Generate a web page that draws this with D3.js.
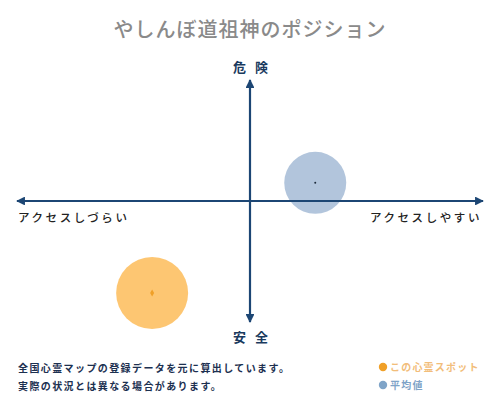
<!DOCTYPE html>
<html><head><meta charset="utf-8">
<script src="https://cdn.jsdelivr.net/npm/d3@7"></script>
<style>
html,body{margin:0;padding:0;background:#fff;}
svg{display:block;font-family:"Noto Sans CJK JP","Noto Sans",sans-serif;}
</style></head><body>
<svg id="c" width="500" height="400"></svg>
<script>
const title = "やしんぼ道祖神のポジション";
const axisLabels = {top:"危 険", bottom:"安 全", left:"アクセスしづらい", right:"アクセスしやすい"};
const seriesNames = ["この心霊スポット", "平均値"];
const xValues = [-42, 28];   // access: negative = hard, positive = easy
const yValues = [-76, 15];   // danger: positive = dangerous
const sizes = [36, 31];
const fillColors = ["#fdc36a", "#9fb7d3"];
const dotColors = ["#f0a028", "#7fa4c8"];
const notes = ["全国心霊マップの登録データを元に算出しています。", "実際の状況とは異なる場合があります。"];

const svg = d3.select("#c");
const axisColor = "#1c4674";
const x = d3.scaleLinear().domain([-100,100]).range([17,483]);
const y = d3.scaleLinear().domain([-100,100]).range([322,80]);

svg.append("text").attr("x",250).attr("y",37).attr("text-anchor","middle")
  .attr("font-size",20).attr("fill","#8a8a8a").attr("font-weight",500).attr("letter-spacing",1)
  .text(title);

const defs = svg.append("defs");
defs.append("marker").attr("id","ah").attr("viewBox","0 0 10 10").attr("refX",9).attr("refY",5)
  .attr("markerWidth",4).attr("markerHeight",4).attr("orient","auto-start-reverse")
  .append("path").attr("d","M0,0L10,5L0,10z").attr("fill",axisColor);

// circles
const pts = xValues.map((v,i)=>({x:v,y:yValues[i],r:sizes[i],i}));
svg.selectAll("circle.b").data(pts).join("circle").attr("class","b")
  .attr("cx",d=>x(d.x)).attr("cy",d=>y(d.y)).attr("r",d=>d.r)
  .attr("fill",d=>fillColors[d.i]).attr("opacity",d=>d.i===0?0.95:0.8);

// axes
svg.append("line").attr("x1",x(-100)).attr("x2",x(100)).attr("y1",y(0)).attr("y2",y(0))
  .attr("stroke",axisColor).attr("stroke-width",2.2)
  .attr("marker-start","url(#ah)").attr("marker-end","url(#ah)");
svg.append("line").attr("x1",x(0)).attr("x2",x(0)).attr("y1",y(-100)).attr("y2",y(100))
  .attr("stroke",axisColor).attr("stroke-width",2.2)
  .attr("marker-start","url(#ah)").attr("marker-end","url(#ah)");

// center markers
svg.append("path").attr("d",d3.symbol().type(d3.symbolDiamond).size(14)())
  .attr("transform",`translate(${x(xValues[0])},${y(yValues[0])})`).attr("fill",dotColors[0]);
svg.append("circle").attr("cx",x(xValues[1])).attr("cy",y(yValues[1])).attr("r",1).attr("fill","#1c2a3a");

const lblColor = "#1a3a5e";
[["top",72],["bottom",342]].forEach(([k,yy])=>{
  svg.append("text").attr("x",252).attr("y",yy).attr("text-anchor","middle").attr("font-size",13)
    .attr("font-weight",700).attr("letter-spacing",3).attr("fill",lblColor)
    .attr("xml:space","preserve").style("white-space","pre").text(axisLabels[k]);
});
svg.append("text").attr("x",18).attr("y",222).attr("font-size",11.5)
  .attr("font-weight",500).attr("letter-spacing",2.6).attr("fill","#222").text(axisLabels.left);
svg.append("text").attr("x",482).attr("y",222).attr("text-anchor","end").attr("font-size",11.5)
  .attr("font-weight",500).attr("letter-spacing",2.6).attr("fill","#222").text(axisLabels.right);

notes.forEach((t,i)=>{
  svg.append("text").attr("x",18).attr("y",372+i*18).attr("font-size",10)
    .attr("font-weight",700).attr("letter-spacing",1.4).attr("fill","#1c3050").text(t);
});

const legText = ["#f2bd7a", "#7fa4c8"];
seriesNames.forEach((n,i)=>{
  svg.append("circle").attr("cx",383).attr("cy",367+i*18).attr("r",4.2).attr("fill",dotColors[i]);
  svg.append("text").attr("x",390).attr("y",371+i*18).attr("font-size",10)
    .attr("font-weight",700).attr("letter-spacing",1.2).attr("fill",legText[i]).text(n);
});
</script>
</body></html>
